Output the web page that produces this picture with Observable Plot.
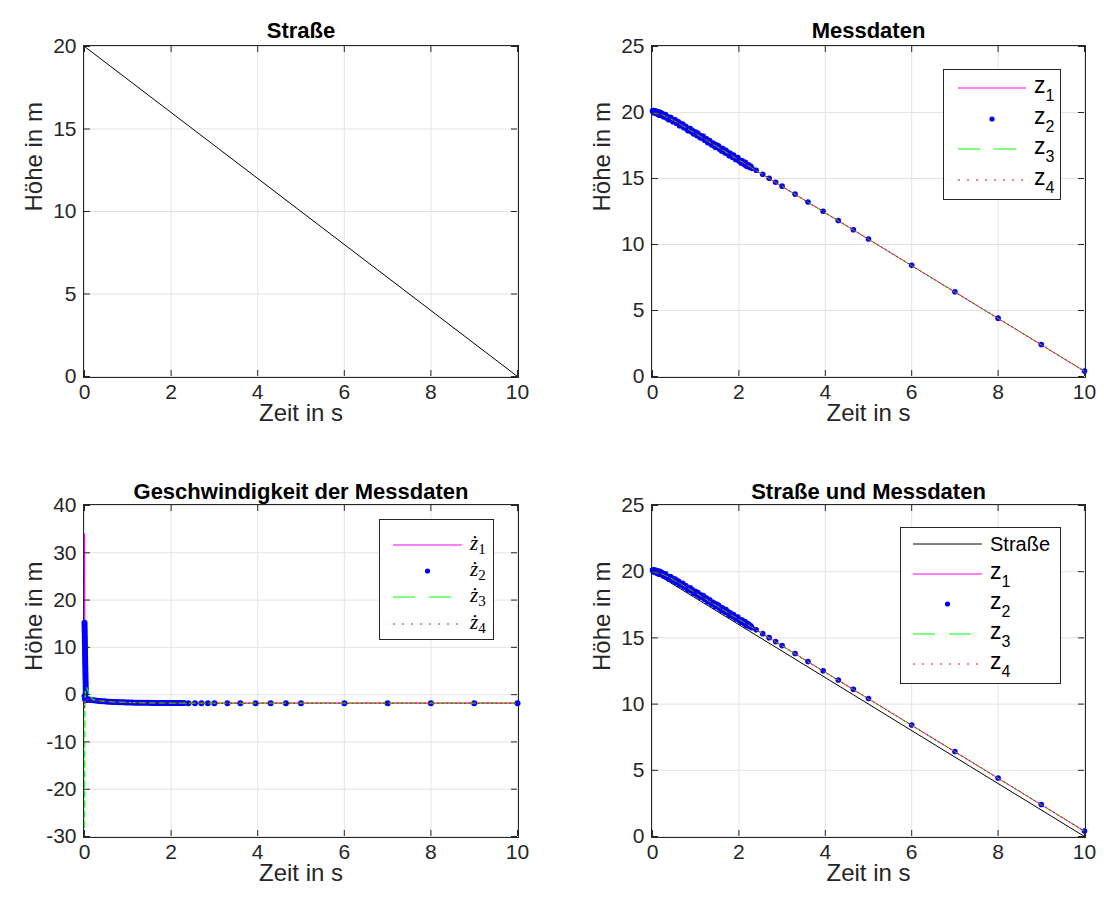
<!DOCTYPE html>
<html><head><meta charset="utf-8">
<script src="https://cdn.jsdelivr.net/npm/d3@7"></script>
<script src="https://cdn.jsdelivr.net/npm/@observablehq/plot@0.6"></script>
<style>
body{margin:0;background:#fff;}
#wrap{position:relative;width:1104px;height:900px;font-family:"Liberation Sans",Arial,sans-serif;color:#262626;background:#fff}
#wrap > div, #wrap > svg{position:absolute}
</style></head><body><div id="wrap"></div>
<script>
// ---------- data ----------
const xTicks = [0, 2, 4, 6, 8, 10];
const yTicksRoad = [0, 5, 10, 15, 20];
const yTicksMess = [0, 5, 10, 15, 20, 25];
const yTicksVel = [-30, -20, -10, 0, 10, 20, 30, 40];

const roadTime = [0, 10];
const roadHeight = [20, 0];

// time grid of the lines z1, z3, z4 and of the velocity dots
const time = [0,0.01,0.02,0.03,0.04,0.05,0.07,0.09,0.12,0.15,
  0.2,0.25,0.3,0.35,0.4,0.45,0.5,0.55,0.6,0.65,
  0.7,0.75,0.8,0.85,0.9,0.95,1.0,1.05,1.1,1.15,
  1.2,1.25,1.3,1.35,1.4,1.45,1.5,1.55,1.6,1.65,
  1.7,1.75,1.8,1.85,1.9,1.95,2.0,2.05,2.1,2.15,
  2.2,2.25,2.3,
  2.4,2.55,2.7,2.85,3.0,3.3,3.6,3.95,4.3,4.65,5.0,6,7,8,9,10];

const z1 = [20.00,20.00,20.00,19.99,19.99,19.98,19.96,19.94,19.91,19.88,
  19.85,19.79,19.71,19.63,19.55,19.46,19.37,19.27,19.18,19.08,
  18.99,18.89,18.79,18.70,18.60,18.50,18.40,18.30,18.20,18.10,
  18.00,17.90,17.80,17.70,17.60,17.50,17.40,17.30,17.20,17.10,
  17.00,16.90,16.80,16.70,16.60,16.50,16.40,16.30,16.20,16.10,
  16.00,15.90,15.80,
  15.60,15.30,15.00,14.70,14.40,13.80,13.20,12.50,11.80,11.10,10.40,8.40,6.40,4.40,2.40,0.40];
const z3 = [20.00,19.99,19.98,19.97,19.96,19.95,19.94,19.92,19.90,19.87, ...z1.slice(10)];
const z4 = z1.slice();

// measured points z2 (denser sampling)
const time2 = [0,0.01,0.02,0.03,0.04,0.05,0.06,0.07,0.08,0.09,0.1,0.11,0.12,0.13,0.14,0.15,0.16,0.17,0.18,0.19,0.2,
  0.225,0.25,0.275,0.3,0.325,0.35,0.375,0.4,0.425,0.45,0.475,0.5,0.525,0.55,0.575,0.6,0.625,0.65,0.675,0.7,
  0.725,0.75,0.775,0.8,0.825,0.85,0.875,0.9,0.925,0.95,0.975,1.0,
  1.025,1.05,1.075,1.1,1.125,1.15,1.175,1.2,1.225,1.25,1.275,1.3,1.325,1.35,1.375,1.4,1.425,1.45,1.475,1.5,
  1.525,1.55,1.575,1.6,1.625,1.65,1.675,1.7,1.725,1.75,1.775,1.8,1.825,1.85,1.875,1.9,1.925,1.95,1.975,2.0,
  2.025,2.05,2.075,2.1,2.125,2.15,2.175,2.2,2.225,2.25,2.275,2.3,
  2.4,2.55,2.7,2.85,3.0,3.3,3.6,3.95,4.3,4.65,5.0,6,7,8,9,10];
const z2 = [20.12,20.05,20.15,19.98,20.09,20.01,20.12,19.94,20.05,20.09,19.91,20.05,19.97,19.85,20.04,19.91,19.80,19.97,20.01,19.81,19.90,
  19.92,19.67,19.79,19.85,19.59,19.65,19.45,19.64,19.62,19.42,19.30,19.44,19.45,19.18,19.24,19.29,19.00,19.13,19.02,19.13,
  18.84,18.95,18.94,18.72,18.62,18.73,18.78,18.55,18.63,18.37,18.47,18.51,
  18.25,18.43,18.27,18.08,18.23,18.07,18.19,17.91,18.00,18.01,17.72,17.80,17.87,17.64,17.54,17.69,17.59,17.36,17.55,17.38,
  17.48,17.22,17.31,17.08,17.26,17.11,16.95,17.14,16.90,16.97,16.72,16.90,16.78,16.61,16.77,16.56,16.44,16.58,16.58,16.33,
  16.37,16.18,16.35,16.25,16.07,16.22,15.92,16.04,16.04,15.84,15.92,15.77,
  15.62,15.32,15.02,14.72,14.42,13.82,13.22,12.52,11.82,11.12,10.42,8.42,6.42,4.42,2.42,0.42];

// velocity: blue dots (column at start + main grid)
const zd2StartTime = [0,0.001,0.002,0.003,0.004,0.005,0.006,0.007,0.008,0.009,0.010,0.011,0.012,0.013,0.014,0.015,0.016,0.017,0.018,0.019,0.020,0.021,0.022,0.023,0.024,0.025,0.026,0.027,0.028,0.029,0.030];
const zd2Start = [15.2,14.8,14.3,13.8,13.3,12.8,12.3,11.8,11.3,10.8,10.3,9.8,9.3,8.8,8.3,7.8,7.3,6.8,6.3,5.8,5.3,4.8,4.3,3.8,3.3,2.8,2.3,1.8,1.3,0.8,0.3];
const zd2 = [-0.3,-0.8,-1.1,-1.2,-1.1,-1.0,-1.0,-1.05,-1.1,-1.15,
  -1.2,-1.25,-1.3,-1.34,-1.38,-1.42,-1.45,-1.48,-1.51,-1.54,
  -1.56,-1.58,-1.6,-1.62,-1.63,-1.65,-1.66,-1.67,-1.68,-1.69,
  -1.7,-1.71,-1.72,-1.72,-1.73,-1.74,-1.74,-1.75,-1.75,-1.76,
  -1.76,-1.77,-1.77,-1.77,-1.78,-1.78,-1.78,-1.78,-1.79,-1.79,
  -1.79,-1.79,-1.79,
  -1.8,-1.8,-1.8,-1.8,-1.8,-1.8,-1.8,-1.8,-1.8,-1.8,-1.8,-1.8,-1.8,-1.8,-1.8,-1.8];
// velocity lines
const velLineTime = [0,0.01,0.02,0.05,0.1,0.15,0.2,0.25,0.3,0.4,0.5,0.7,1.0,1.5,2.0,3.0,4.0,6.0,8.0,10.0];
const zd1 = [34,-0.8,-1.0,-1.0,-1.05,-1.15,-1.2,-1.25,-1.3,-1.38,-1.45,-1.56,-1.66,-1.74,-1.78,-1.8,-1.8,-1.8,-1.8,-1.8];
const zd3 = [-28,-3,1.0,1.5,0.3,-0.6,-1.0,-1.2,-1.3,-1.38,-1.45,-1.56,-1.66,-1.74,-1.78,-1.8,-1.8,-1.8,-1.8,-1.8];
const zd4 = [-2.8,-1.6,-1.2,-1.05,-1.05,-1.15,-1.2,-1.25,-1.3,-1.38,-1.45,-1.56,-1.66,-1.74,-1.78,-1.8,-1.8,-1.8,-1.8,-1.8];

// ---------- tables ----------
const road = roadTime.map((t, i) => ({t, h: roadHeight[i]}));
const mess = time.map((t, i) => ({t, z1: z1[i], z3: z3[i], z4: z4[i], zd2: zd2[i]}));
const mess2 = time2.map((t, i) => ({t, z2: z2[i]}));
const velStart = zd2StartTime.map((t, i) => ({t, v: zd2Start[i]}));
const velLines = velLineTime.map((t, i) => ({t, v1: zd1[i], v3: zd3[i], v4: zd4[i]}));

const C = {mag: "#ff00ff", blue: "#0000ff", green: "#00ff00", red: "#ff0000", black: "#000000", axis: "#262626", grid: "#e3e3e3"};
const FONT = '"Liberation Sans", Arial, Helvetica, sans-serif';

function panel({left, top, ml, mr, mt, mb, yDomain, yTicks, title, titleDy, marks}) {
  const W = 552, H = 450;
  const iw = W - ml - mr, ih = H - mt - mb;
  const fmt = d => String(d);
  const svg = Plot.plot({
    width: W, height: H,
    marginLeft: ml, marginRight: mr, marginTop: mt, marginBottom: mb,
    style: {fontFamily: FONT, fontSize: "21px", color: C.axis, background: "transparent", overflow: "visible"},
    x: {domain: [0, 10]},
    y: {domain: yDomain},
    marks: [
      Plot.gridX(xTicks, {stroke: C.grid, strokeOpacity: 1}),
      Plot.gridY(yTicks, {stroke: C.grid, strokeOpacity: 1}),
      Plot.frame({stroke: C.axis, inset: -1}),
      ...marks,
      Plot.tickX(xTicks, {x: d => d, insetTop: ih - 6, stroke: C.axis}),
      Plot.tickX(xTicks, {x: d => d, insetBottom: ih - 6, stroke: C.axis}),
      Plot.tickY(yTicks, {y: d => d, insetRight: iw - 6, stroke: C.axis}),
      Plot.tickY(yTicks, {y: d => d, insetLeft: iw - 6, stroke: C.axis}),
      Plot.axisX(xTicks, {tickSize: 0, tickPadding: 8, tickFormat: fmt, label: null, fontSize: 21, fill: C.axis}),
      Plot.axisY(yTicks, {tickSize: 0, tickPadding: 8, tickFormat: fmt, label: null, fontSize: 21, fill: C.axis}),
      Plot.text([title], {text: d => d, frameAnchor: "top", dy: titleDy, fontWeight: "bold", fontSize: 22, fill: "#000"}),
      Plot.text(["Zeit in s"], {text: d => d, frameAnchor: "bottom", dy: 44, fontSize: 24, fill: C.axis}),
      Plot.text(["Höhe in m"], {text: d => d, frameAnchor: "left", dx: -50, rotate: -90, fontSize: 24, fill: C.axis})
    ]
  });
  svg.style.position = "absolute";
  svg.style.left = left + "px";
  svg.style.top = top + "px";
  return svg;
}

function messMarks() {
  return [
    Plot.line(mess, {x: "t", y: "z1", stroke: C.mag, strokeWidth: 1}),
    Plot.dot(mess2, {x: "t", y: "z2", r: 2.8, fill: C.blue, stroke: null}),
    Plot.line(mess, {x: "t", y: "z3", stroke: C.green, strokeWidth: 1, strokeDasharray: "6,4"}),
    Plot.line(mess, {x: "t", y: "z4", stroke: C.red, strokeWidth: 1, strokeDasharray: "1.5,3"})
  ];
}

const wrap = document.getElementById("wrap");

wrap.appendChild(panel({left: 0, top: 0, ml: 84, mr: 35, mt: 46, mb: 74, yDomain: [0, 20], yTicks: yTicksRoad, title: "Straße", titleDy: -24,
  marks: [Plot.line(road, {x: "t", y: "h", stroke: C.black, strokeWidth: 1})]}));

wrap.appendChild(panel({left: 552, top: 0, ml: 100, mr: 20, mt: 46, mb: 74, yDomain: [0, 25], yTicks: yTicksMess, title: "Messdaten", titleDy: -24,
  marks: messMarks()}));

wrap.appendChild(panel({left: 0, top: 450, ml: 84, mr: 35, mt: 55, mb: 64, yDomain: [-30, 40], yTicks: yTicksVel, title: "Geschwindigkeit der Messdaten", titleDy: -22,
  marks: [
    Plot.line(velLines, {x: "t", y: "v1", stroke: C.mag, strokeWidth: 1.2}),
    Plot.dot(velStart, {x: "t", y: "v", r: 3, fill: C.blue, stroke: null}),
    Plot.dot(mess, {x: "t", y: "zd2", r: 3, fill: C.blue, stroke: null}),
    Plot.line(velLines, {x: "t", y: "v3", stroke: C.green, strokeWidth: 1.2, strokeDasharray: "6,4"}),
    Plot.line(velLines, {x: "t", y: "v4", stroke: C.red, strokeWidth: 1, strokeDasharray: "1.5,3"})
  ]}));

wrap.appendChild(panel({left: 552, top: 450, ml: 100, mr: 20, mt: 55, mb: 64, yDomain: [0, 25], yTicks: yTicksMess, title: "Straße und Messdaten", titleDy: -22,
  marks: [Plot.line(road, {x: "t", y: "h", stroke: C.black, strokeWidth: 1}), ...messMarks()]}));

// ---------- legends ----------
function legend({left, top, width, height, rows, sx0, sx1, tx, items}) {
  const svg = d3.create("svg").attr("width", width).attr("height", height)
    .style("position", "absolute").style("left", left + "px").style("top", top + "px").style("overflow", "visible");
  svg.append("rect").attr("x", 0.5).attr("y", 0.5).attr("width", width - 1).attr("height", height - 1)
    .attr("fill", "#fff").attr("stroke", C.axis).attr("stroke-width", 1);
  items.forEach((it, i) => {
    const y = rows[i];
    if (it.type === "dot") {
      svg.append("circle").attr("cx", (sx0 + sx1) / 2).attr("cy", y).attr("r", 2.6).attr("fill", it.color);
    } else {
      svg.append("line").attr("x1", sx0).attr("x2", sx1).attr("y1", y).attr("y2", y)
        .attr("stroke", it.color).attr("stroke-width", 1).attr("stroke-dasharray", it.dash || null);
    }
    const t = svg.append("text").attr("x", tx).attr("fill", "#000");
    if (it.kind === "plain") {
      t.attr("y", y + 7).attr("font-family", FONT).attr("font-size", 20).text(it.label);
    } else if (it.kind === "tex") {
      t.attr("y", y + 5).attr("font-family", FONT).attr("font-size", 23);
      t.append("tspan").text(it.label);
      t.append("tspan").attr("dy", 8).attr("font-size", 16).text(it.sub);
    } else {
      t.attr("y", y + 5).attr("font-family", '"Liberation Serif", "DejaVu Serif", serif').attr("font-size", 21);
      t.append("tspan").attr("font-style", "italic").text(it.label);
      t.append("tspan").attr("dy", 4).attr("font-size", 15).text(it.sub);
    }
  });
  return svg.node();
}

const zItems = [
  {type: "line", color: C.mag, kind: "tex", label: "z", sub: "1"},
  {type: "dot", color: C.blue, kind: "tex", label: "z", sub: "2"},
  {type: "line", color: C.green, dash: "22,14", kind: "tex", label: "z", sub: "3"},
  {type: "line", color: C.red, dash: "2,7", kind: "tex", label: "z", sub: "4"}
];

wrap.appendChild(legend({left: 943, top: 69, width: 118, height: 131, rows: [19, 50, 80, 111], sx0: 15, sx1: 83, tx: 91, items: zItems}));

wrap.appendChild(legend({left: 379, top: 519, width: 115, height: 121, rows: [26, 52, 78, 105], sx0: 14, sx1: 83, tx: 91, items: [
  {type: "line", color: C.mag, kind: "math", label: "ż", sub: "1"},
  {type: "dot", color: C.blue, kind: "math", label: "ż", sub: "2"},
  {type: "line", color: C.green, dash: "22,14", kind: "math", label: "ż", sub: "3"},
  {type: "line", color: C.red, dash: "2,7", kind: "math", label: "ż", sub: "4"}
]}));

wrap.appendChild(legend({left: 900, top: 527, width: 161, height: 157, rows: [17, 47, 77, 107, 137], sx0: 13, sx1: 82, tx: 90, items: [
  {type: "line", color: C.black, kind: "plain", label: "Straße"},
  ...zItems
]}));
</script></body></html>
